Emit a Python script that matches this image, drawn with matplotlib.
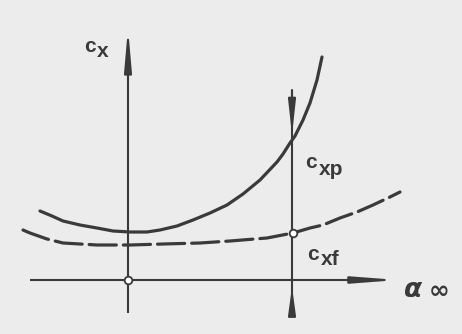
import matplotlib
matplotlib.use("Agg")
import matplotlib.pyplot as plt

# ---- data (origin at the axis crossing) ----
alpha_p = [-88, -76, -65, -48, -31, -15, 2, 19, 32, 49, 65, 82, 99, 115,
           132, 149, 155, 162, 167, 175, 182, 189, 194]
cx_p    = [69, 64, 59, 55, 52, 49, 48, 48, 50, 54, 60, 67, 75, 86,
           100, 118, 126, 137, 144, 160, 177, 200, 223]
alpha_f = [-105, -98, -81, -65, -48, -31, 2, 35, 72, 102, 139, 165, 182,
           195, 212, 229, 245, 262, 272]
cx_f    = [50, 47, 41, 37, 36, 35, 35, 36, 37, 39, 42, 47, 52,
           55, 62, 68, 75, 83, 88]
alpha_sel = 164          # chosen angle of attack
marker_x = [0, 165]
marker_y = [0, 47]

INK = "#3a3a3a"
BG = "#ececec"

fig = plt.figure(figsize=(4.62, 3.34), dpi=100)
fig.patch.set_facecolor(BG)
ax = fig.add_axes([0, 0, 1, 1])
ax.set_facecolor(BG)
ax.set_xlim(-128, 334)
ax.set_ylim(-54, 280)
ax.axis("off")

def arrow(x0, y0, x1, y1, hl, hw):
    ax.annotate("", xy=(x1, y1), xytext=(x0, y0),
                arrowprops=dict(arrowstyle=f"-|>,head_length={hl},head_width={hw}",
                                mutation_scale=10, color=INK, lw=1.5,
                                shrinkA=0, shrinkB=0))

# axes
ax.plot([0, 0], [-33, 230], color=INK, lw=1.5, solid_capstyle="butt")
arrow(0, 200, 0, 252, 2.5, 0.22)
ax.plot([-98, 240], [0, 0], color=INK, lw=1.5, solid_capstyle="butt")
arrow(220, 0, 270, 0, 2.6, 0.2)

# vertical line at chosen alpha
ax.plot([alpha_sel, alpha_sel], [-36, 190], color=INK, lw=1.5, solid_capstyle="butt")
arrow(alpha_sel, 190, alpha_sel, 145, 2.0, 0.22)
arrow(alpha_sel, -36, alpha_sel, -7, 1.6, 0.22)

# curves
ax.plot(alpha_p, cx_p, color=INK, lw=2.3, solid_capstyle="round",
        solid_joinstyle="round")
ax.plot(alpha_f, cx_f, color=INK, lw=2.3, dashes=(8.5, 2.2), dash_capstyle="round")

# markers
ax.plot(marker_x, marker_y, "o", ms=5.5, mfc="white", mec=INK, mew=1.3, zorder=5)

# labels
tkw = dict(color=INK, fontsize=15, fontweight="bold", family="Liberation Sans")
ax.text(-44, 228, "c", ha="left", va="baseline", **tkw)
ax.text(-31, 223, "x", ha="left", va="baseline", **tkw)
ax.text(177, 112, "c", ha="left", va="baseline", **tkw)
ax.text(191, 105, "xp", ha="left", va="baseline", **tkw)
ax.text(179, 20, "c", ha="left", va="baseline", **tkw)
ax.text(193, 15, "xf", ha="left", va="baseline", **tkw)
ax.text(276, -17, "α", ha="left", va="baseline", color=INK, fontsize=19,
        fontstyle="oblique", fontweight="bold", family="DejaVu Sans")
ax.text(301, -18, "∞", ha="left", va="baseline", color=INK, fontsize=18,
        fontweight="bold", family="DejaVu Sans")

fig.savefig("out.png", dpi=100, facecolor=BG)
